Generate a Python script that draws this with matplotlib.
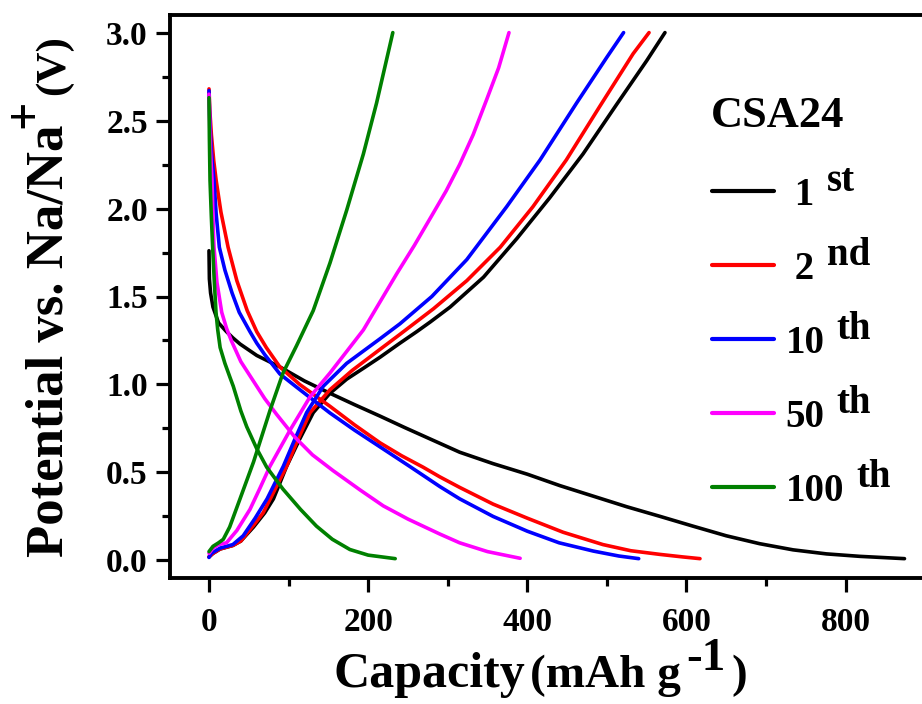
import matplotlib
matplotlib.use("Agg")
import matplotlib.pyplot as plt
from matplotlib.ticker import MultipleLocator, FormatStrFormatter
from matplotlib.transforms import IdentityTransform

plt.rcParams['font.family'] = ['Liberation Serif', 'DejaVu Serif']
plt.rcParams['font.weight'] = 'bold'

# ---------------- data (capacity mAh/g, potential V) ----------------
cycles = ['1st', '2nd', '10th', '50th', '100th']
colors = ['#000000', '#ff0000', '#0000ff', '#ff00ff', '#008000']

# discharge branches
dis1_x = [0, 0.5, 2, 5, 12, 22, 30, 39, 60, 89, 120, 152, 183, 215, 246, 278, 315, 357, 400, 441, 483, 525, 567, 608, 650, 692, 734, 776, 818, 874]
dis1_y = [1.76, 1.6, 1.52, 1.44, 1.35, 1.30, 1.265, 1.23, 1.165, 1.10, 1.02, 0.95, 0.885, 0.82, 0.755, 0.69, 0.615, 0.55, 0.49, 0.425, 0.365, 0.305, 0.25, 0.195, 0.14, 0.095, 0.06, 0.037, 0.023, 0.01]

dis2_x = [0, 1, 3, 6, 9, 15, 24, 35, 48, 60, 72, 89, 114, 152, 183, 215, 242, 269, 290, 315, 357, 400, 445, 495, 530, 567, 595, 617]
dis2_y = [2.68, 2.56, 2.42, 2.27, 2.16, 1.98, 1.78, 1.59, 1.42, 1.30, 1.21, 1.10, 1.00, 0.876, 0.77, 0.668, 0.595, 0.53, 0.475, 0.415, 0.32, 0.24, 0.16, 0.09, 0.055, 0.034, 0.02, 0.01]

dis10_x = [0, 1, 3, 6.3, 9, 13, 20, 29, 38, 51.5, 60, 70, 89, 110, 152, 183, 215, 252, 290, 315, 357, 400, 440, 483, 515, 540]
dis10_y = [2.67, 2.5, 2.32, 2.16, 1.97, 1.78, 1.65, 1.52, 1.41, 1.30, 1.235, 1.17, 1.06, 0.985, 0.838, 0.74, 0.645, 0.535, 0.42, 0.35, 0.25, 0.166, 0.10, 0.053, 0.025, 0.01]

dis50_x = [0, 1, 2, 3.8, 5, 6.3, 10, 16, 22, 28, 40, 60, 70, 85, 108, 130, 156, 190, 219, 250, 290, 315, 350, 391]
dis50_y = [2.65, 2.45, 2.32, 2.16, 1.95, 1.78, 1.58, 1.41, 1.32, 1.25, 1.13, 0.99, 0.92, 0.83, 0.70, 0.60, 0.51, 0.40, 0.31, 0.235, 0.15, 0.10, 0.05, 0.012]

dis100_x = [0, 0.5, 1.3, 3, 4.6, 6.5, 8.8, 11, 14, 20, 26.4, 30.5, 40, 47.4, 60, 72.5, 93, 115, 135, 155, 177, 200, 234]
dis100_y = [2.63, 2.4, 2.16, 1.95, 1.78, 1.6, 1.41, 1.31, 1.21, 1.12, 1.04, 0.99, 0.85, 0.76, 0.635, 0.53, 0.405, 0.29, 0.195, 0.12, 0.062, 0.03, 0.01]

# charge branches
chg1_x = [0, 5, 14, 30, 40, 56, 70, 81, 97.6, 114, 131, 152, 173, 195, 215, 240, 261, 278, 303, 345, 387, 428, 470, 512, 550, 573]
chg1_y = [0.02, 0.04, 0.065, 0.085, 0.11, 0.19, 0.27, 0.35, 0.535, 0.69, 0.84, 0.95, 1.03, 1.095, 1.155, 1.235, 1.30, 1.355, 1.44, 1.61, 1.83, 2.06, 2.31, 2.59, 2.84, 3.0]

chg2_x = [0, 5, 14, 30, 40, 56, 68, 77, 97.6, 112, 127, 152, 180, 215, 240, 282, 324, 366, 407, 449, 491, 533, 553]
chg2_y = [0.02, 0.04, 0.065, 0.085, 0.11, 0.2, 0.27, 0.35, 0.535, 0.69, 0.84, 0.97, 1.08, 1.20, 1.285, 1.43, 1.59, 1.78, 2.01, 2.276, 2.58, 2.88, 3.0]

chg10_x = [0, 3, 14, 30, 43, 58, 73, 93.4, 108, 122.7, 143.6, 173, 215, 240, 280, 324, 374, 416, 462, 500, 521]
chg10_y = [0.017, 0.04, 0.07, 0.09, 0.14, 0.24, 0.35, 0.535, 0.69, 0.84, 0.99, 1.12, 1.26, 1.345, 1.50, 1.71, 2.01, 2.276, 2.60, 2.86, 3.0]

chg50_x = [0, 5, 12, 22, 35, 51.5, 64, 76.6, 101.8, 127, 152, 194, 236, 258, 280, 298, 315, 332, 349, 364, 377]
chg50_y = [0.04, 0.07, 0.09, 0.10, 0.17, 0.29, 0.41, 0.535, 0.74, 0.93, 1.065, 1.31, 1.63, 1.79, 1.96, 2.10, 2.25, 2.42, 2.62, 2.80, 3.0]

chg100_x = [0, 5, 12, 18, 26, 39, 56, 77, 93, 110, 131, 152, 173, 194, 210.6, 231]
chg100_y = [0.05, 0.08, 0.10, 0.12, 0.19, 0.35, 0.56, 0.857, 1.065, 1.22, 1.42, 1.69, 1.99, 2.31, 2.60, 3.0]

legend_numbers = [' 1', ' 2', '10', '50', '100']
legend_sups = ['st', 'nd', 'th', 'th', 'th']
legend_title = 'CSA24'

x_ticks = [0, 200, 400, 600, 800]
y_ticks = [0.0, 0.5, 1.0, 1.5, 2.0, 2.5, 3.0]

discharges = [(dis1_x, dis1_y), (dis2_x, dis2_y), (dis10_x, dis10_y), (dis50_x, dis50_y), (dis100_x, dis100_y)]
charges = [(chg1_x, chg1_y), (chg2_x, chg2_y), (chg10_x, chg10_y), (chg50_x, chg50_y), (chg100_x, chg100_y)]

# ---------------- figure ----------------
W, H = 922, 704
fig = plt.figure(figsize=(W / 100, H / 100), dpi=100)
ax = fig.add_axes([170 / W, (H - 578) / H, (W - 170) / W, (578 - 15) / H])

handles = []
for (dx, dy), (cx, cy), col, lab in zip(discharges, charges, colors, cycles):
    h, = ax.plot(dx, dy, color=col, lw=2.6, solid_capstyle='round', solid_joinstyle='round', label=lab)
    ax.plot(cx, cy, color=col, lw=2.6, solid_capstyle='round', solid_joinstyle='round')
    handles.append(h)

ax.set_xlim(-49, 896)
ax.set_ylim(-0.1, 3.1)
ax.set_xticks(x_ticks)
ax.set_yticks(y_ticks)
ax.xaxis.set_minor_locator(MultipleLocator(100))
ax.yaxis.set_minor_locator(MultipleLocator(0.25))
ax.yaxis.set_major_formatter(FormatStrFormatter('%.1f'))
ax.tick_params(which='major', direction='out', length=10, width=2.3, labelsize=24, pad=6)
ax.tick_params(which='minor', direction='out', length=6, width=2.3)
ax.tick_params(axis='x', which='major', pad=11)
ax.tick_params(top=False, right=False, which='both')
for lab in ax.get_xticklabels() + ax.get_yticklabels():
    lab.set_fontweight('bold')
for s in ['left', 'bottom', 'top']:
    ax.spines[s].set_linewidth(2.8)
ax.spines['right'].set_visible(False)

# axis labels built from pieces (mixed sizes / superscripts)
def ftext(px, py, s, **kw):
    return fig.text(px / W, 1 - py / H, s, fontweight='bold', **kw)

ftext(333, 687, 'Capacity', size=36, ha='left', va='baseline')
ftext(530, 687, '(mAh g', size=34, ha='left', va='baseline')
ftext(686, 670, '-1', size=34, ha='left', va='baseline')
ftext(731, 687, ')', size=34, ha='left', va='baseline')

ftext(63, 557, 'Potential vs. Na/Na', size=38, rotation=90, rotation_mode='anchor', ha='left', va='baseline')
ftext(38, 128, '+', size=36, rotation=90, rotation_mode='anchor', ha='left', va='baseline')
ftext(64, 95, '(V)', size=31, rotation=90, rotation_mode='anchor', ha='left', va='baseline')

# legend
leg = ax.legend(handles, legend_numbers, title=legend_title, loc='upper left',
                bbox_to_anchor=(711 / W, 1 - 96 / H), bbox_transform=fig.transFigure,
                frameon=False, prop={'family': 'Liberation Serif', 'weight': 'bold', 'size': 28},
                title_fontproperties={'family': 'Liberation Serif', 'weight': 'bold', 'size': 32},
                handlelength=1.6, handletextpad=0.3, labelspacing=0.95, borderpad=0,
                borderaxespad=0, alignment='center')
leg._legend_box.sep = leg._legend_box.sep + 4 * 0.72
for lh in leg.get_lines():
    lh.set_linewidth(3.0)

fig.canvas.draw()
renderer = fig.canvas.get_renderer()
for t, sup in zip(leg.get_texts(), legend_sups):
    bb = t.get_window_extent(renderer)
    fig.text(bb.x1 + 12, bb.y0 + 14, sup, transform=IdentityTransform(), size=28,
             fontweight='bold', ha='left', va='bottom')

fig.savefig('out.png', dpi=100)
